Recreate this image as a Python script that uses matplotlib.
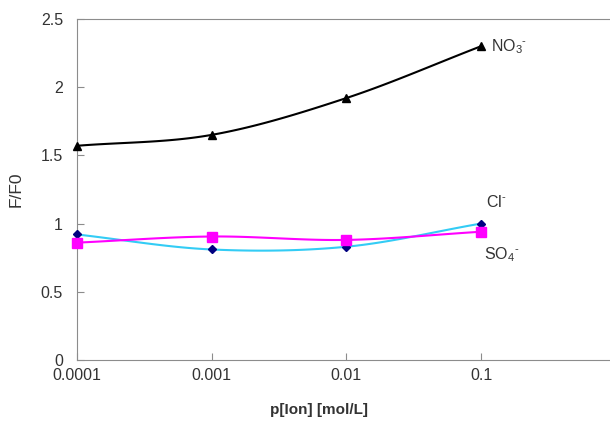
import numpy as np
import matplotlib
matplotlib.use("Agg")
import matplotlib.pyplot as plt

plt.rcParams["font.family"] = ["Liberation Sans", "DejaVu Sans"]
plt.rcParams["mathtext.default"] = "regular"

# concentration [mol/L]
conc = [0.0001, 0.001, 0.01, 0.1]
no3 = [1.57, 1.65, 1.92, 2.30]
cl = [0.92, 0.81, 0.83, 1.00]
so4 = [0.86, 0.905, 0.88, 0.94]

AXIS = "#8c8c8c"
TEXT = "#333333"


def smooth(x, y, n=40):
    """Catmull-Rom curve through the points (x in log space), like Excel's smoothed line."""
    lx = np.log10(x)
    px = np.concatenate([[2 * lx[0] - lx[1]], lx, [2 * lx[-1] - lx[-2]]])
    py = np.concatenate([[2 * y[0] - y[1]], y, [2 * y[-1] - y[-2]]])
    xs, ys = [], []
    t = np.linspace(0, 1, n)
    for i in range(1, len(px) - 2):
        for p, out in ((px, xs), (py, ys)):
            p0, p1, p2, p3 = p[i - 1], p[i], p[i + 1], p[i + 2]
            out.append(0.5 * (2 * p1 + (-p0 + p2) * t
                              + (2 * p0 - 5 * p1 + 4 * p2 - p3) * t ** 2
                              + (-p0 + 3 * p1 - 3 * p2 + p3) * t ** 3))
    return 10 ** np.concatenate(xs), np.concatenate(ys)


fig = plt.figure(figsize=(6.10, 4.21), dpi=100)
ax = fig.add_axes([0.126, 0.145, 0.874, 0.81])

series = [
    (no3, "black", "black", "^", 6),
    (cl, "#33ccf5", "#000080", "D", 4),
    (so4, "#ff00ff", "#ff00ff", "s", 6.5),
]
for vals, lc, mc, mk, ms in series:
    sx, sy = smooth(np.array(conc), np.array(vals))
    ax.plot(sx, sy, color=lc, lw=1.5, zorder=2)
    ax.plot(conc, vals, ls="none", marker=mk, ms=ms, color=mc, zorder=3,
            clip_on=False)

ax.set_xscale("log")
ax.set_xlim(1e-4, 0.906)
ax.set_ylim(0, 2.5)
ax.set_xticks(conc)
ax.set_xticklabels(["0.0001", "0.001", "0.01", "0.1"])
ax.xaxis.set_minor_locator(matplotlib.ticker.NullLocator())
ax.set_yticks([0, 0.5, 1, 1.5, 2, 2.5])
ax.set_yticklabels(["0", "0.5", "1", "1.5", "2", "2.5"])

for side in ("left", "bottom", "top"):
    ax.spines[side].set_color(AXIS)
ax.spines["right"].set_visible(False)
ax.tick_params(axis="y", direction="in", length=5, color=AXIS, pad=10,
               labelsize=11.5, labelcolor=TEXT)
ax.tick_params(axis="x", direction="in", length=5, color=AXIS, pad=6,
               labelsize=11.5, labelcolor=TEXT)

ax.set_ylabel("F/F0", fontsize=12.5, labelpad=12, color=TEXT)
fig.text(319 / 610, 1 - 410 / 421, "p[Ion] [mol/L]", fontsize=11,
         fontweight="bold", ha="center", va="center", color=TEXT)

# short hyphen as the charge sign, as in the original
ax.text(0.119, 2.30, "NO$_3$$^{\u2010}$", fontsize=11.5, va="center", color=TEXT)
ax.text(0.108, 1.16, "Cl$^{\u2010}$", fontsize=11.5, va="center", color=TEXT)
ax.text(0.106, 0.77, "SO$_4$$^{\u2010}$", fontsize=11.5, va="center", color=TEXT)

fig.savefig("out.png", dpi=100)
